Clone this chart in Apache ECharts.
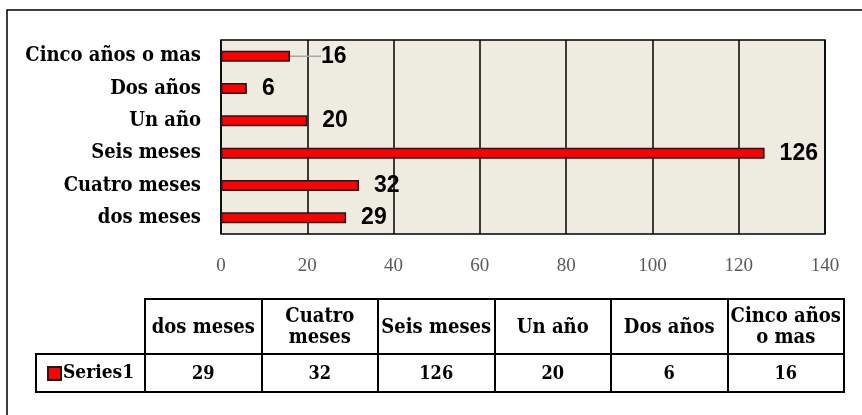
<!DOCTYPE html>
<html>
<head>
<meta charset="utf-8">
<script src="https://cdn.jsdelivr.net/npm/echarts@6/dist/echarts.min.js"></script>
<style>
  html, body { margin: 0; padding: 0; background: #fff; }
  #chart { width: 862px; height: 415px; }
</style>
</head>
<body>
<div id="chart"></div>
<script>
// datos (de abajo hacia arriba)
var categories = ['dos meses', 'Cuatro meses', 'Seis meses', 'Un año', 'Dos años', 'Cinco años o mas'];
var values = [29, 32, 126, 20, 6, 16];
var headerLabels = ['dos meses', 'Cuatro\nmeses', 'Seis meses', 'Un año', 'Dos años', 'Cinco años\no mas'];
var xTicks = [0, 20, 40, 60, 80, 100, 120, 140];
var seriesName = 'Series1';

var serifFamily = '"DejaVu Serif Condensed", "DejaVu Serif"';
var black = '#000';

var chart = echarts.init(document.getElementById('chart'));

var option = {
  animation: false,
  backgroundColor: '#fff',
  graphic: [
    // marco exterior
    { type: 'rect', shape: { x: 7, y: 10, width: 880, height: 430 }, style: { fill: 'none', stroke: black, lineWidth: 1.5 }, z: 0 },
    // celda de la leyenda
    { type: 'rect', shape: { x: 36, y: 354, width: 109, height: 38 }, style: { fill: 'none', stroke: black, lineWidth: 2 }, z: 10 }
  ],
  legend: {
    data: [seriesName],
    left: 42,
    top: 359,
    icon: 'rect',
    itemWidth: 13,
    itemHeight: 13,
    itemGap: 4,
    textStyle: { fontFamily: serifFamily, fontWeight: 'bold', fontSize: 19, color: black, padding: [0, 0, 0, -3] }
  },
  grid: [
    { left: 221, top: 40, width: 604, height: 194, show: true, backgroundColor: '#EEECE1', borderColor: black, borderWidth: 1.5 },
    { left: 145, top: 299, width: 699, height: 55, show: true, borderColor: black, borderWidth: 2 },
    { left: 145, top: 354, width: 699, height: 38, show: true, borderColor: black, borderWidth: 2 }
  ],
  xAxis: [
    {
      gridIndex: 0, type: 'value', min: xTicks[0], max: xTicks[xTicks.length - 1], interval: 20,
      axisLine: { show: false }, axisTick: { show: false },
      splitLine: { show: true, lineStyle: { color: black, width: 1.5 } },
      axisLabel: { margin: 23, color: '#595959', fontFamily: 'Liberation Serif', fontSize: 19 }
    },
    {
      gridIndex: 1, type: 'category', data: categories,
      axisLine: { show: false }, axisTick: { show: false }, axisLabel: { show: false },
      splitLine: { show: true, interval: 0, lineStyle: { color: black, width: 2 } }
    },
    {
      gridIndex: 2, type: 'category', data: categories,
      axisLine: { show: false }, axisTick: { show: false }, axisLabel: { show: false },
      splitLine: { show: true, interval: 0, lineStyle: { color: black, width: 2 } }
    }
  ],
  yAxis: [
    {
      gridIndex: 0, type: 'category', data: categories,
      axisLine: { show: false }, axisTick: { show: false }, splitLine: { show: false },
      axisLabel: { margin: 20, color: black, fontFamily: serifFamily, fontWeight: 'bold', fontSize: 20 }
    },
    { gridIndex: 1, type: 'category', data: ['h'], show: false },
    { gridIndex: 2, type: 'category', data: [seriesName], show: false }
  ],
  series: [
    {
      name: seriesName,
      type: 'bar',
      xAxisIndex: 0, yAxisIndex: 0,
      barWidth: 11,
      data: values.map(function (v, i) {
        var item = { value: v };
        if (i === 5) item.labelLine = { show: true, lineStyle: { color: '#A6A6A6', width: 1.5 } };
        return item;
      }),
      itemStyle: { color: '#FF0000', borderColor: '#1a1a1a', borderWidth: 1.5 },
      label: {
        show: true, position: 'right', distance: 15,
        color: black, fontFamily: 'Liberation Sans', fontWeight: 'bold', fontSize: 23
      },
      labelLayout: function (params) {
        if (params.dataIndex === 5) return { dx: 16 };
        return {};
      }
    },
    {
      type: 'custom',
      xAxisIndex: 1, yAxisIndex: 1,
      data: headerLabels.map(function (t, i) { return [i, 0]; }),
      renderItem: function (params, api) {
        var p = api.coord([api.value(0), 0]);
        return {
          type: 'text', x: p[0], y: p[1] + 1,
          style: { text: headerLabels[params.dataIndex], font: 'bold 20px ' + serifFamily, fill: black, align: 'center', verticalAlign: 'middle', lineHeight: 21 }
        };
      },
      z: 5
    },
    {
      type: 'custom',
      xAxisIndex: 2, yAxisIndex: 2,
      data: values.map(function (v, i) { return [i, 0, v]; }),
      renderItem: function (params, api) {
        var p = api.coord([api.value(0), 0]);
        return {
          type: 'text', x: p[0], y: p[1] + 1,
          style: { text: String(api.value(2)), font: 'bold 18px ' + serifFamily, fill: black, align: 'center', verticalAlign: 'middle' }
        };
      },
      z: 5
    }
  ]
};

chart.setOption(option);
</script>
</body>
</html>
